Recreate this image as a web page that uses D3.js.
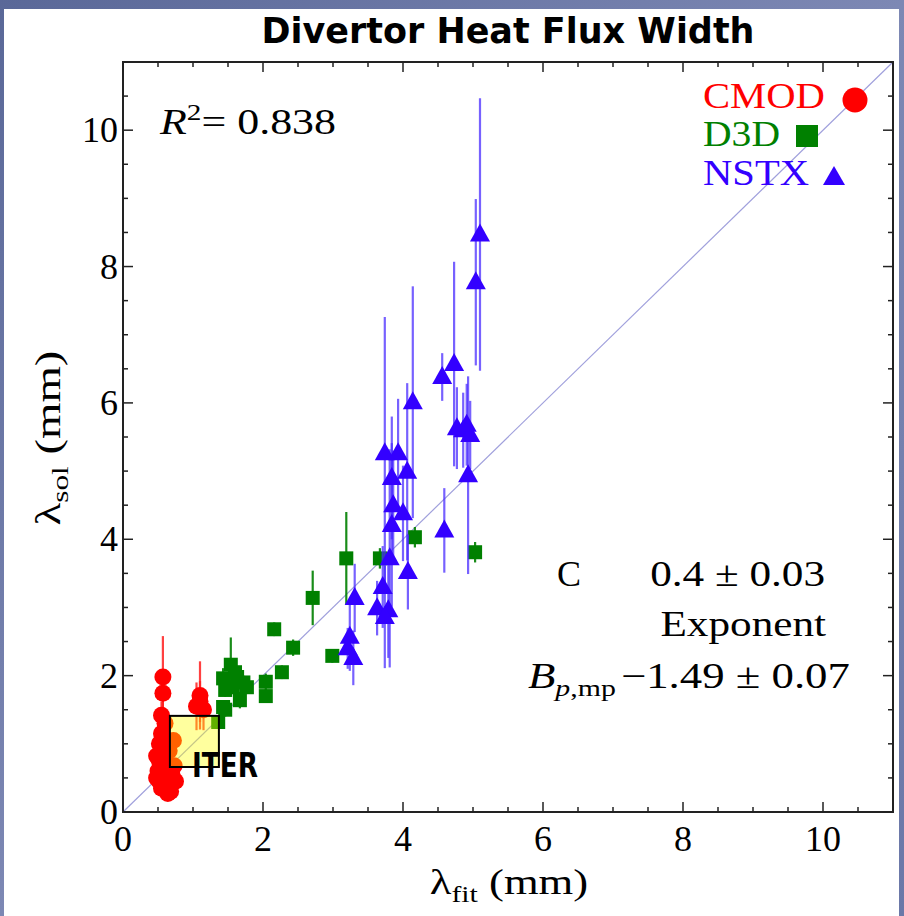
<!DOCTYPE html>
<html><head><meta charset="utf-8">
<script src="https://cdn.jsdelivr.net/npm/d3@7"></script>
<style>html,body{margin:0;padding:0;background:#5d6b9e;}svg{display:block;}</style>
</head><body>
<script>
// ---- data: [lambda_fit, lambda_sol, error half-length] ----
const cmod = [
  [0.57,1.98,0.6],[0.57,1.74,0.3],[0.55,1.42,0.2],[0.6,1.3,0.2],[0.55,1.15,0.2],
  [0.52,1.0,0.15],[0.58,0.88,0.15],[0.52,0.75,0.15],[0.62,0.7,0.15],[0.5,0.6,0.1],
  [0.6,0.55,0.1],[0.52,0.45,0.1],[0.65,0.45,0.1],[0.55,0.35,0.1],[0.68,0.3,0.1],
  [0.7,0.55,0.1],[0.72,1.05,0.1],[0.75,0.45,0.1],[0.73,0.68,0.1],[0.48,0.82,0.1],
  [0.64,0.27,0.1],[0.66,0.9,0.1],[0.48,0.5,0.1],
  [1.1,1.71,0.5],[1.05,1.55,0.35],[1.15,1.5,0.3],[1.1,1.62,0.3]
];
const d3d = [
  [1.36,1.32,0.1],[1.46,1.5,0.1],[1.43,1.54,0.1],[1.54,2.16,0.4],[1.43,1.96,0.15],
  [1.63,1.98,0.15],[1.72,1.9,0.1],[1.46,1.79,0.1],[1.67,1.64,0.12],[1.57,1.83,0.1],
  [1.77,1.83,0.1],[1.6,2.05,0.2],[2.04,1.91,0.12],[2.04,1.7,0.1],[2.27,2.05,0.1],
  [2.16,2.68,0.1],[2.43,2.41,0.12],[2.99,2.29,0.1],[2.71,3.14,0.4],[3.19,3.72,0.68],
  [3.67,3.72,0.15],[4.17,4.03,0.15],[5.03,3.81,0.15]
];
const nstx = [
  [5.1,8.47,2.0],[5.04,7.77,1.22],[4.73,6.57,1.5],[4.56,6.38,0.35],[4.14,6.01,1.7],
  [4.86,5.6,0.55],[4.77,5.63,0.6],[4.96,5.53,0.5],[4.91,5.68,0.6],[4.93,4.94,1.45],
  [4.59,4.13,0.62],[4.07,3.52,0.55],[4.06,4.99,1.3],[3.93,5.26,0.8],[3.74,5.26,2.0],
  [3.84,4.9,0.9],[3.86,4.5,0.8],[4.0,4.38,0.7],[3.84,4.21,1.2],[3.81,3.72,1.6],
  [3.71,3.3,0.6],[3.63,2.99,0.4],[3.79,2.96,0.7],[3.74,2.86,0.75],[3.31,3.14,0.5],
  [3.24,2.57,0.5],[3.21,2.4,0.3],[3.29,2.26,0.4]
];
const iterBox = [0.67, 1.37, 0.66, 1.41]; // x0, x1, y0, y1
const majorTicks = [0,2,4,6,8,10];
const minorTicks = d3.range(0, 11.01, 0.5);
const domainMax = 11;

const W = 904, H = 916;
const svg = d3.select("body").append("svg").attr("width", W).attr("height", H);
const defs = svg.append("defs");
const g1 = defs.append("linearGradient").attr("id","bg").attr("x1","0").attr("y1","0").attr("x2","1").attr("y2","1");
g1.append("stop").attr("offset","0").attr("stop-color","#5a6898");
g1.append("stop").attr("offset","0.5").attr("stop-color","#7d88b4");
g1.append("stop").attr("offset","1").attr("stop-color","#6b78a8");
svg.append("rect").attr("width",W).attr("height",H).attr("fill","url(#bg)");
svg.append("rect").attr("x",4).attr("y",9).attr("width",895).attr("height",H-9).attr("fill","#fff");

const x = d3.scaleLinear().domain([0, domainMax]).range([123, 893]);
const y = d3.scaleLinear().domain([0, domainMax]).range([812, 62]);

const serif = "'Liberation Serif','Times New Roman',serif";
// horizontally stretched text group (anchor x0)
function stretched(x0, sx){
  return svg.append("g").attr("transform",`translate(${x0},0) scale(${sx},1) translate(${-x0},0)`);
}

// title
svg.append("text").attr("x", 508).attr("y", 43).attr("text-anchor","middle")
  .attr("font-family","'DejaVu Sans',sans-serif").attr("font-weight","bold").attr("font-size",36)
  .attr("textLength",493).attr("lengthAdjust","spacingAndGlyphs").text("Divertor Heat Flux Width");

const plot = svg.append("g");
plot.append("defs").append("clipPath").attr("id","clip").append("rect")
  .attr("x",123).attr("y",62).attr("width",770).attr("height",750);

// diagonal
plot.append("line").attr("x1",x(0)).attr("y1",y(0)).attr("x2",x(domainMax)).attr("y2",y(domainMax))
  .attr("stroke","#a0a0dc").attr("stroke-width",1.2);

function drawSeries(data, color, barColor, barOpacity, shape){
  const g = plot.append("g").attr("clip-path","url(#clip)");
  g.selectAll("line.e").data(data).join("line")
    .attr("x1",d=>x(d[0])).attr("x2",d=>x(d[0]))
    .attr("y1",d=>y(d[1]-d[2])).attr("y2",d=>y(d[1]+d[2]))
    .attr("stroke",barColor).attr("stroke-opacity",barOpacity).attr("stroke-width",2.2);
  if(shape==="circle"){
    g.selectAll("circle").data(data).join("circle")
      .attr("cx",d=>x(d[0])).attr("cy",d=>y(d[1])).attr("r",8.5).attr("fill",color);
  } else if(shape==="square"){
    g.selectAll("rect").data(data).join("rect")
      .attr("x",d=>x(d[0])-7).attr("y",d=>y(d[1])-7).attr("width",14).attr("height",14).attr("fill",color);
  } else {
    g.selectAll("path").data(data).join("path")
      .attr("d",d=>{const cx=x(d[0]), cy=y(d[1]); return `M${cx-10},${cy+7}L${cx+10},${cy+7}L${cx},${cy-11}Z`;})
      .attr("fill",color);
  }
}
drawSeries(cmod, "#ff0000", "#ff2020", 0.85, "circle");
drawSeries(d3d, "#008000", "#008000", 0.9, "square");
drawSeries(nstx, "#3300ff", "#4a2cff", 0.75, "triangle");

// ITER box
plot.append("rect").attr("x",x(iterBox[0])).attr("y",y(iterBox[3]))
  .attr("width",x(iterBox[1])-x(iterBox[0])).attr("height",y(iterBox[2])-y(iterBox[3]))
  .attr("fill","#ffff00").attr("fill-opacity",0.38).attr("stroke","#000").attr("stroke-width",2);
plot.append("text").attr("x",192).attr("y",777).attr("font-family","'DejaVu Sans',sans-serif")
  .attr("font-weight","bold").attr("font-size",34).attr("textLength",66).attr("lengthAdjust","spacingAndGlyphs")
  .text("ITER");

// frame
plot.append("rect").attr("x",123).attr("y",62).attr("width",770).attr("height",750)
  .attr("fill","none").attr("stroke","#222").attr("stroke-width",2);
const tk = plot.append("g").attr("stroke","#222").attr("stroke-width",1.5);
minorTicks.forEach(v=>{
  const L = majorTicks.includes(v) ? 10 : 5;
  tk.append("line").attr("x1",x(v)).attr("x2",x(v)).attr("y1",812).attr("y2",812-L);
  tk.append("line").attr("x1",x(v)).attr("x2",x(v)).attr("y1",62).attr("y2",62+L);
  tk.append("line").attr("y1",y(v)).attr("y2",y(v)).attr("x1",123).attr("x2",123+L);
  tk.append("line").attr("y1",y(v)).attr("y2",y(v)).attr("x1",893).attr("x2",893-L);
});
majorTicks.forEach(v=>{
  svg.append("text").attr("x",x(v)).attr("y",851).attr("text-anchor","middle")
    .attr("font-family",serif).attr("font-size",36).text(v);
  svg.append("text").attr("x",118).attr("y",y(v)+12).attr("text-anchor","end")
    .attr("font-family",serif).attr("font-size",36).text(v);
});

// axis labels
const xl = stretched(509, 1.24).append("text").attr("x",509).attr("y",894).attr("text-anchor","middle")
  .attr("font-family",serif).attr("font-size",36);
xl.append("tspan").text("λ");
xl.append("tspan").attr("font-size",24).attr("dy",8).text("fit");
xl.append("tspan").attr("dy",-8).text(" (mm)");
const yl = svg.append("g").attr("transform","translate(60,438) rotate(-90) scale(1.3,1)")
  .append("text").attr("text-anchor","middle").attr("font-family",serif).attr("font-size",36);
yl.append("tspan").text("λ");
yl.append("tspan").attr("font-size",24).attr("dy",8).text("sol");
yl.append("tspan").attr("dy",-8).text(" (mm)");

// R^2
const r2 = stretched(160, 1.22).append("text").attr("x",160).attr("y",134).attr("font-family",serif).attr("font-size",36);
r2.append("tspan").attr("font-style","italic").text("R");
r2.append("tspan").attr("font-size",24).attr("dy",-14).text("2");
r2.append("tspan").attr("dy",14).text("= 0.838");

// legend
const legend = [["CMOD","#ff0000",108,122],["D3D","#008000",146,77],["NSTX","#3300ff",185,106]];
legend.forEach(l=>{
  svg.append("text").attr("x",703).attr("y",l[2]).attr("font-family",serif).attr("font-size",36)
    .attr("fill",l[1]).attr("textLength",l[3]).attr("lengthAdjust","spacingAndGlyphs").text(l[0]);
});
svg.append("circle").attr("cx",855).attr("cy",100).attr("r",12.5).attr("fill","#ff0000");
svg.append("rect").attr("x",796).attr("y",125).attr("width",22).attr("height",22).attr("fill","#008000");
svg.append("path").attr("d","M823,185L845,185L834,166Z").attr("fill","#3300ff");

// fit annotation
svg.append("text").attr("x",557).attr("y",586).attr("font-family",serif).attr("font-size",36).text("C");
stretched(825, 1.2).append("text").attr("x",825).attr("y",586).attr("text-anchor","end").attr("font-family",serif).attr("font-size",36).text("0.4 ± 0.03");
stretched(826, 1.2).append("text").attr("x",826).attr("y",636).attr("text-anchor","end").attr("font-family",serif).attr("font-size",36).text("Exponent");
const bp = stretched(528, 1.245).append("text").attr("x",528).attr("y",688).attr("font-family",serif).attr("font-size",36);
bp.append("tspan").attr("font-style","italic").text("B");
bp.append("tspan").attr("font-size",24).attr("dy",8).attr("font-style","italic").text("p");
bp.append("tspan").attr("font-size",24).text(",mp");
bp.append("tspan").attr("dy",-8).attr("dx",4).text("−1.49 ± 0.07");
</script>
</body></html>
